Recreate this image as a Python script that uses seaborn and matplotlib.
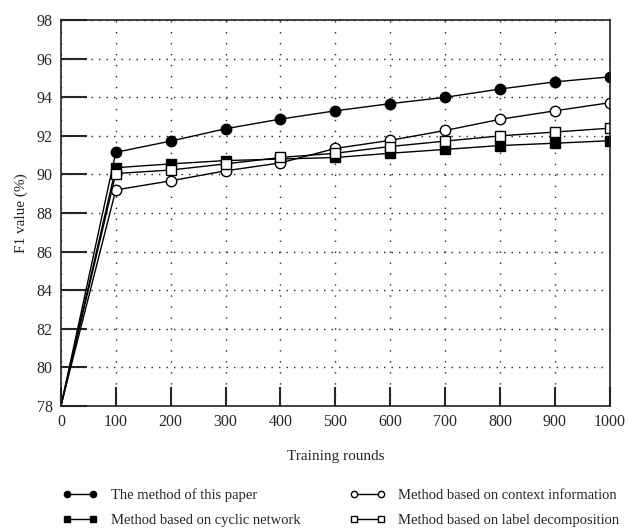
"""F1 value vs. training rounds for four methods."""

import matplotlib.pyplot as plt
import pandas as pd
import seaborn as sns

# Data
rounds = [0, 100, 200, 300, 400, 500, 600, 700, 800, 900, 1000]
f1_this_paper = [78, 91.15, 91.73, 92.37, 92.87, 93.3, 93.67, 94.0, 94.43, 94.8, 95.06]
f1_cyclic = [78, 90.35, 90.55, 90.72, 90.8, 90.88, 91.1, 91.3, 91.5, 91.62, 91.75]
f1_context = [78, 89.2, 89.67, 90.19, 90.6, 91.35, 91.77, 92.28, 92.86, 93.3, 93.72]
f1_label = [78, 90.05, 90.23, 90.55, 90.88, 91.1, 91.45, 91.73, 92.0, 92.2, 92.4]

series_names = [
    "The method of this paper",
    "Method based on cyclic network",
    "Method based on context information",
    "Method based on label decomposition",
]
y_ticks = [78, 80, 82, 84, 86, 88, 90, 92, 94, 96, 98]


def main():
    sns.set_style("ticks")
    plt.rcParams["font.family"] = ["Liberation Serif", "DejaVu Serif"]
    plt.rcParams["font.size"] = 11

    fig = plt.figure(figsize=(6.28, 5.30), dpi=100)
    ax = fig.add_axes([0.097, 0.234, 0.874, 0.728])

    all_series = [f1_this_paper, f1_cyclic, f1_context, f1_label]
    styles = [
        dict(marker="o", markerfacecolor="black", markersize=7.5),
        dict(marker="s", markerfacecolor="black", markersize=7.0),
        dict(marker="o", markerfacecolor="white", markersize=7.5),
        dict(marker="s", markerfacecolor="white", markersize=7.0),
    ]

    for name, values, style in zip(series_names, all_series, styles):
        df = pd.DataFrame({"round": rounds, "f1": values})
        sns.lineplot(
            data=df,
            x="round",
            y="f1",
            ax=ax,
            color="black",
            linewidth=1.0,
            markeredgecolor="black",
            markeredgewidth=1.0,
            markevery=list(range(1, len(rounds))),
            label=name,
            **style,
        )

    ax.set_xlim(0, 1000)
    ax.set_ylim(78, 98)
    ax.set_xticks(rounds)
    ax.set_yticks(y_ticks)

    # sparse dotted grid, dots closer along the horizontal lines
    ax.yaxis.grid(True, color="#222222", linestyle=(0, (1, 4.4)), linewidth=1.0)
    ax.xaxis.grid(True, color="#222222", linestyle=(0, (1, 6.9)), linewidth=1.0)

    for side in ["top", "right", "left", "bottom"]:
        ax.spines[side].set_visible(True)
        ax.spines[side].set_linewidth(1.2)
        ax.spines[side].set_color("#222222")

    ax.tick_params(axis="x", direction="in", length=14, width=1.5, pad=6, labelsize=11.5)
    ax.tick_params(axis="y", direction="in", length=19, width=1.5, pad=6, labelsize=11.5)

    ax.set_xlabel("Training rounds", fontsize=11, labelpad=14)
    ax.set_ylabel("F1 value (%)", fontsize=11, labelpad=6)

    handles, labels = ax.get_legend_handles_labels()
    ax.get_legend().remove()
    fig.legend(
        handles,
        labels,
        ncol=2,
        loc="upper left",
        bbox_to_anchor=(0.088, 0.093),
        frameon=False,
        fontsize=10.5,
        markerscale=0.6,
        numpoints=2,
        borderpad=0,
        handlelength=2.4,
        handletextpad=0.9,
        columnspacing=3.4,
        labelspacing=0.8,
    )

    fig.savefig("out.png", dpi=100)
    plt.close(fig)


if __name__ == "__main__":
    main()
